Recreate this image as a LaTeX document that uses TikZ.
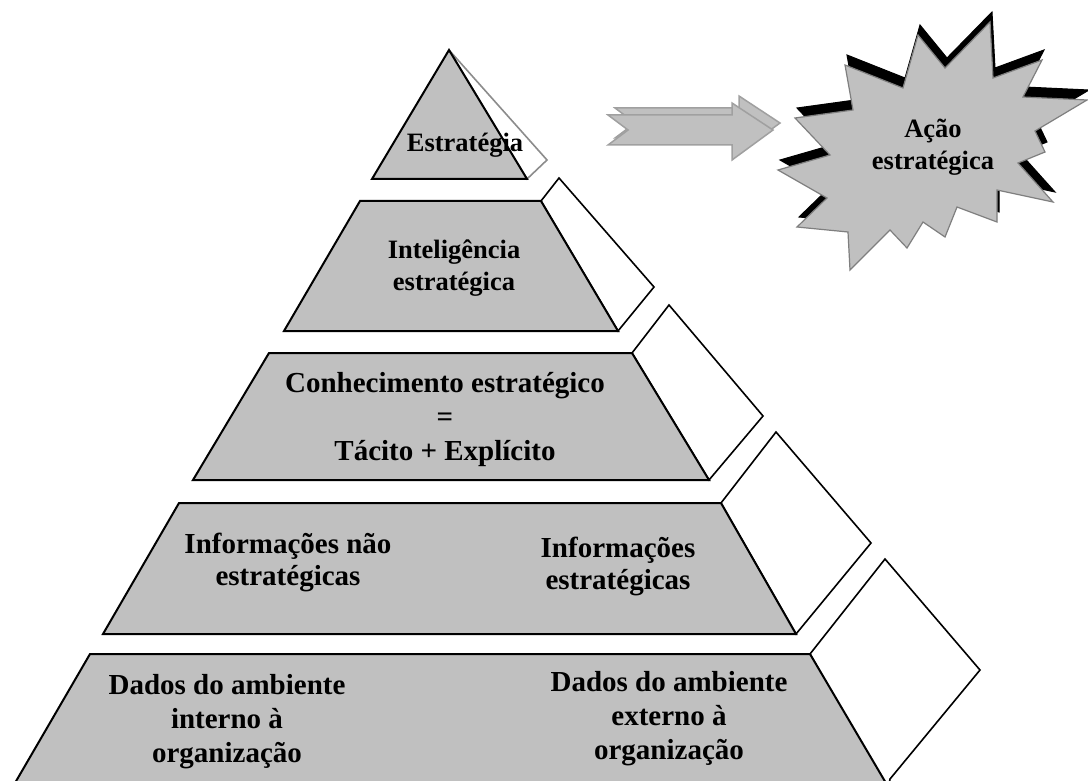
\documentclass[tikz,border=0pt]{standalone}
\usepackage{fontspec}
\setmainfont{Liberation Serif}
\begin{document}
\begin{tikzpicture}[x=1pt,y=-1pt,
  level/.style={fill=pyrgray,draw=black,line width=2pt,line join=miter},
  face/.style={fill=white,draw=black,line width=1.6pt,line join=miter},
  lbl/.style={align=center,inner sep=0pt,text=black,
    font=\fontsize{26.5}{32}\selectfont\bfseries},
  lblb/.style={lbl,font=\fontsize{29}{32}\selectfont\bfseries},
  lblw/.style={lbl,font=\fontsize{29}{34}\selectfont\bfseries},
  arrowshape/.style={fill=pyrgray,draw=arrowedge,line width=1.5pt,line join=miter},
  starfront/.style={fill=pyrgray,draw=staredge,line width=1.2pt,line join=miter},
  starshadow/.style={fill=black,draw=black,line width=1pt,line join=miter}]
\definecolor{pyrgray}{HTML}{C0C0C0}
\definecolor{arrowedge}{HTML}{A0A0A0}
\definecolor{staredge}{HTML}{7F7F7F}
\definecolor{faceedge}{HTML}{8C8C8C}
\useasboundingbox (0,0) rectangle (1088,781);
\clip (0,0) rectangle (1088,781);
\fill[white] (0,0) rectangle (1088,781);

% ---- top triangle
\draw[fill=white,draw=faceedge,line width=1.6pt,line join=miter] (449,50) -- (547,160) -- (527,179) -- cycle;
\draw[level] (449,50) -- (527,179) -- (372,179) -- cycle;

% ---- level 2
\draw[face] (541,201) -- (559,178) -- (654,287) -- (618,331) -- cycle;
\draw[level] (360,201) -- (541,201) -- (618,331) -- (284,331) -- cycle;

% ---- level 3
\draw[face] (632,353) -- (669,305) -- (763,416) -- (709,480) -- cycle;
\draw[level] (269,353) -- (632,353) -- (709,480) -- (193,480) -- cycle;

% ---- level 4
\draw[face] (721,503) -- (776,432) -- (871,543) -- (796,634) -- cycle;
\draw[level] (179,503) -- (721,503) -- (796,634) -- (103,634) -- cycle;

% ---- level 5
\draw[face] (810,654) -- (885,559) -- (980,670) -- (890,779) -- (888,790) -- cycle;
\draw[level] (90,654) -- (810,654) -- (893,795) -- (8,795) -- cycle;

% ---- arrow (back and front)
\draw[arrowshape] (615,108) -- (739,108) -- (739,96) -- (780,123) -- (739,153) -- (739,138) -- (615,138) -- (635,123) -- cycle;
\draw[arrowshape] (608,115) -- (732,115) -- (732,103) -- (773,130) -- (732,160) -- (732,145) -- (608,145) -- (628,130) -- cycle;

% ---- star (shadow and front)
\begin{scope}[shift={(2,-10)}]
\draw[starshadow] (795,118) -- (853,110) -- (845,65) -- (903,88) -- (918,35) -- (945,68) -- (990,22) -- (993,78) -- (1042,60) -- (1023,97) -- (1087,100) -- (1035,131) -- (1045,152) -- (1018,163) -- (1053,202) -- (997,190) -- (997,222) -- (957,207) -- (945,237) -- (923,222) -- (907,248) -- (890,230) -- (850,270) -- (848,232) -- (797,227) -- (827,198) -- (778,170) -- (830,155) -- cycle;
\end{scope}
\draw[starfront] (795,118) -- (853,110) -- (845,65) -- (903,88) -- (918,35) -- (945,68) -- (990,22) -- (993,78) -- (1042,60) -- (1023,97) -- (1087,100) -- (1035,131) -- (1045,152) -- (1018,163) -- (1053,202) -- (997,190) -- (997,222) -- (957,207) -- (945,237) -- (923,222) -- (907,248) -- (890,230) -- (850,270) -- (848,232) -- (797,227) -- (827,198) -- (778,170) -- (830,155) -- cycle;

% ---- texts
\node[lbl] (estr) at (465,145) {Estratégia};
\node[lbl] (acao) at (933,147) {Ação\\estratégica};
\node[lbl] (intel) at (454,268) {Inteligência\\estratégica};
\node[lblw] (conh) at (445,420) {Conhecimento estratégico\\=\\Tácito + Explícito};
\node[lblb] (infn) at (288,562) {Informações não\\estratégicas};
\node[lblb] (infe) at (618,566) {Informações\\estratégicas};
\node[lblw] (dint) at (227,722) {Dados do ambiente\\interno à\\organização};
\node[lblw] (dext) at (669,719) {Dados do ambiente\\externo à\\organização};
\end{tikzpicture}
\end{document}
